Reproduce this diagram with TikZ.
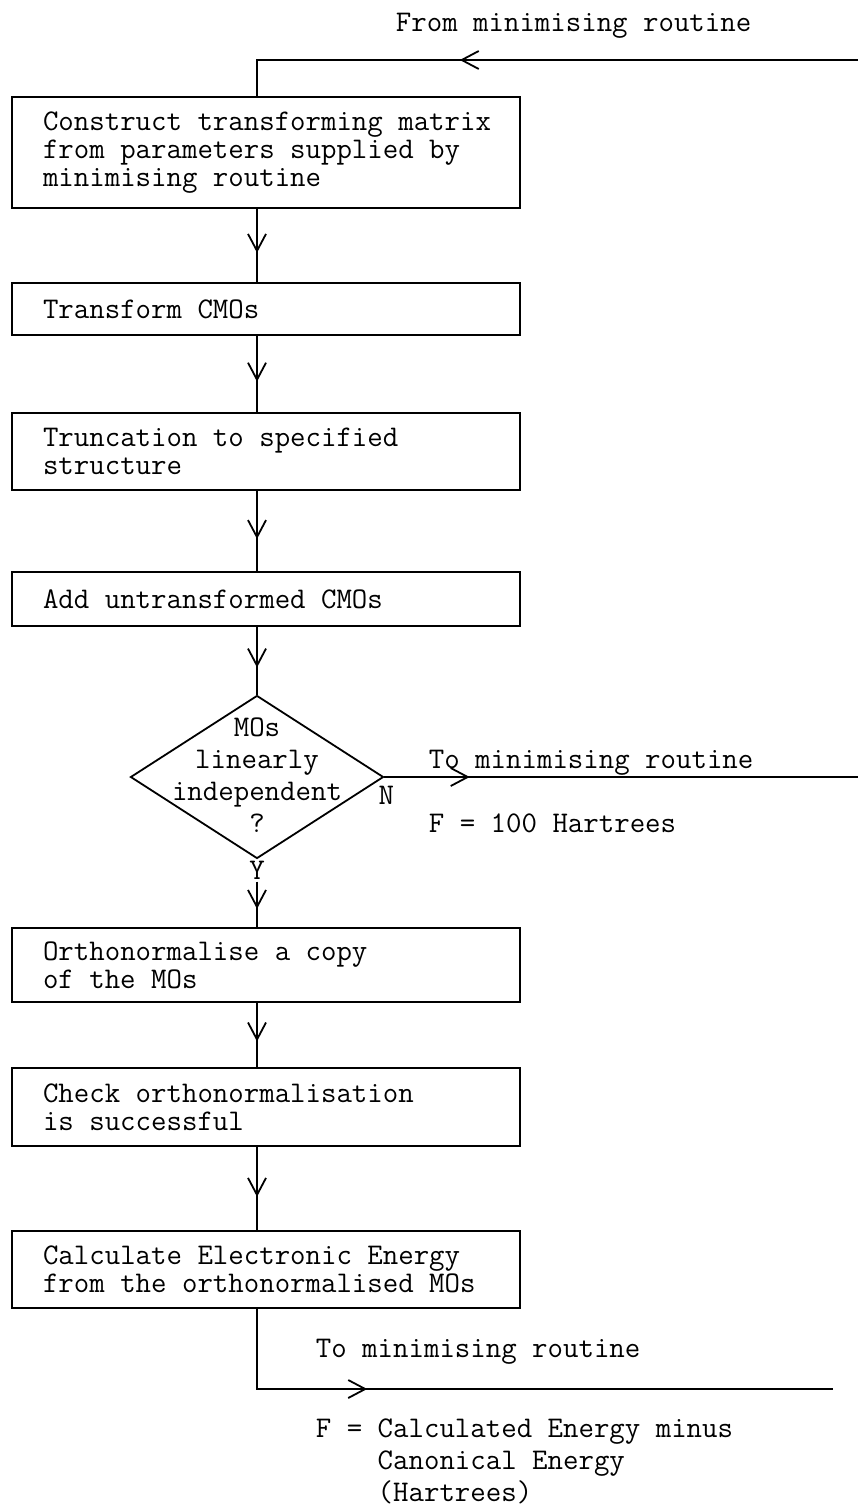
\documentclass[tikz,border=0pt]{standalone}
\usepackage{fontspec}
\usetikzlibrary{arrows.meta,decorations.markings,shapes.geometric}
\tikzset{
	marrow/.style={postaction={decorate, decoration={markings, mark=at position #1 with {\arrow{Straight Barb[length=17pt,width=18pt]}}}}},
	marrow/.default=0.6,
	procbox/.style={draw, align=flush left, text width=446pt, inner xsep=31pt, inner ysep=0pt, minimum height=#1},
	note/.style={anchor=base west, inner sep=0pt, align=flush left, font=\ttfamily\fontsize{30}{32}\selectfont},
}
\begin{document}
\begin{tikzpicture}[x=1pt, y=-1pt, line width=1.8pt, font=\ttfamily\fontsize{30}{28}\selectfont]
	\useasboundingbox (0,0) rectangle (858,1505);
	\node [procbox=111pt] (b1) at (266,152.5) {\mbox{Construct transforming matrix}\\from parameters supplied by\\minimising routine};
	\node [procbox=52pt] (b2) at (266,309) {Transform CMOs};
	\node [procbox=77pt] (b3) at (266,451.5) {Truncation to specified\\structure};
	\node [procbox=54pt] (b4) at (266,599) {Add untransformed CMOs};
	\node [diamond, draw, minimum width=253pt, minimum height=163pt, inner sep=0pt] (dec) at (257,777) {};
	\node [align=flush center, inner sep=0pt, font=\ttfamily\fontsize{30}{32}\selectfont] (dectext) at ([yshift=2pt]dec.center) {MOs\\linearly\\independent\\?};
	\node [anchor=north, inner sep=1pt] (ylab) at (dec.south) {Y};
	\node [anchor=north, inner sep=1pt] (nlab) at ([xshift=2pt, yshift=-7pt]dec.east) {N};
	\node [procbox=74pt] (b5) at (266,965) {Orthonormalise a copy\\of the MOs};
	\node [procbox=78pt] (b6) at (266,1107) {Check orthonormalisation\\is successful};
	\node [procbox=77pt] (b7) at (266,1269.5) {Calculate Electronic Energy\\from the orthonormalised MOs};
	\coordinate (fromR) at (858,60);
	\coordinate (toR1) at (858,777);
	\coordinate (toR2) at (833,1389);
	\node [note] (fromlab) at (395,31) {From minimising routine};
	\node [note] (tolab1) at (428,768) {To minimising routine};
	\node [note] (flab1) at (428,832) {F = 100 Hartrees};
	\node [note] (tolab2) at (315,1357) {To minimising routine};
	\node [note] (flab2) at (315,1501) {F = Calculated Energy minus\\\phantom{F = }Canonical Energy\\\phantom{F = }(Hartrees)};
	\draw [marrow=0.625] (fromR) -- (fromR -| dec) -- (b1.north -| dec);
	\draw [marrow] (b1.south -| dec) -- (b2.north -| dec);
	\draw [marrow] (b2.south -| dec) -- (b3.north -| dec);
	\draw [marrow] (b3.south -| dec) -- (b4.north -| dec);
	\draw [marrow] (b4.south -| dec) -- (dec.north);
	\draw [marrow=0.18] (dec.east) -- (toR1);
	\draw [marrow] (ylab.south) -- (b5.north -| dec);
	\draw [marrow] (b5.south -| dec) -- (b6.north -| dec);
	\draw [marrow] (b6.south -| dec) -- (b7.north -| dec);
	\draw [marrow=0.29] (b7.south -| dec) |- (toR2);
\end{tikzpicture}
\end{document}
